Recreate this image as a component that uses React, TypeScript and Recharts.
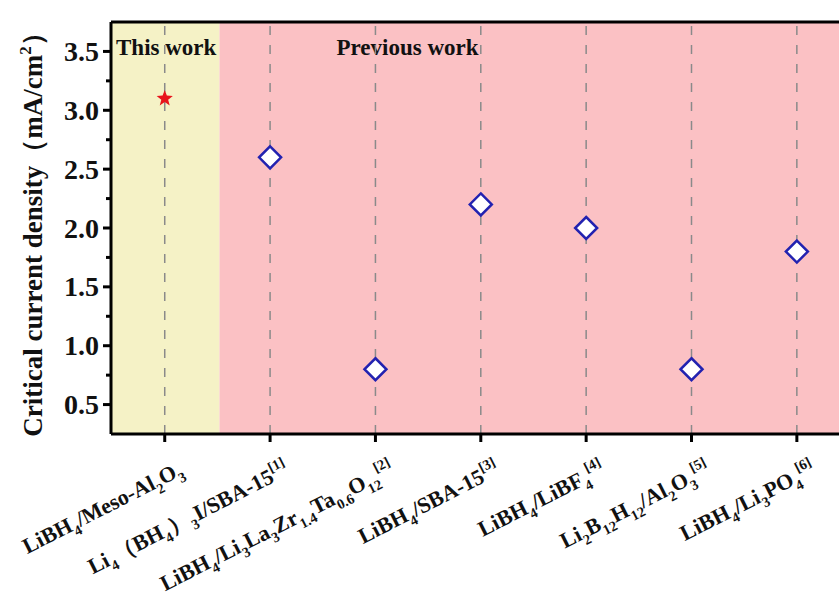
import {
  ScatterChart,
  Scatter,
  XAxis,
  YAxis,
  ReferenceArea,
  ReferenceLine,
} from "recharts";

// tick labels: _{..} is subscript, ^{..} is superscript
const CATEGORIES = [
  "LiBH_{4}/Meso-Al_{2}O_{3}",
  "Li_{4}（BH_{4}）_{3}I/SBA-15^{[1]}",
  "LiBH_{4}/Li_{3}La_{3}Zr_{1.4}Ta_{0.6}O_{12}^{[2]}",
  "LiBH_{4}/SBA-15^{[3]}",
  "LiBH_{4}/LiBF_{4}^{[4]}",
  "Li_{2}B_{12}H_{12}/Al_{2}O_{3}^{[5]}",
  "LiBH_{4}/Li_{3}PO_{4}^{[6]}",
];

// critical current density, mA/cm2
const THIS_WORK = [3.1];
const PREVIOUS_WORK = [2.6, 0.8, 2.2, 2.0, 0.8, 1.8];

const Y_TICKS = [
  0.5, 0.75, 1.0, 1.25, 1.5, 1.75, 2.0, 2.25, 2.5, 2.75, 3.0, 3.25, 3.5,
];

const thisWorkData = THIS_WORK.map((y, i) => ({ x: i, y }));
const previousData = PREVIOUS_WORK.map((y, i) => ({
  x: i + THIS_WORK.length,
  y,
}));
const categoryIndex = CATEGORIES.map((_, i) => i);

const WIDTH = 839;
const HEIGHT = 606;
const PLOT_LEFT = 111;
const PLOT_TOP = 22;
const AXIS_HEIGHT = 172;
const X_DOMAIN = [-0.51, 6.4];
const SPLIT = 0.52;

const SERIF = '"Liberation Serif", "Times New Roman", serif';
const YELLOW = "#f5f2c6";
const PINK = "#fbc1c4";
const BLUE = "#2222b0";
const RED = "#e8141c";

function richText(label: string, size: number) {
  const parts = label.split(/(_\{[^}]*\}|\^\{[^}]*\})/).filter(Boolean);
  let shift = 0;
  return parts.map((p, i) => {
    let kind = "";
    let text = p;
    if (p.startsWith("_{")) {
      kind = "sub";
      text = p.slice(2, -1);
    } else if (p.startsWith("^{")) {
      kind = "sup";
      text = p.slice(2, -1);
    }
    const target =
      kind === "sub" ? size * 0.3 : kind === "sup" ? -size * 0.45 : 0;
    const dy = target - shift;
    shift = target;
    return (
      <tspan key={i} dy={dy} fontSize={kind ? size * 0.65 : size}>
        {text}
      </tspan>
    );
  });
}

// same linear mapping the x axis uses, for the rotated category labels
function categoryX(i: number) {
  const span = X_DOMAIN[1] - X_DOMAIN[0];
  return PLOT_LEFT + ((i - X_DOMAIN[0]) / span) * (WIDTH - PLOT_LEFT);
}

function ValueTick(props: any) {
  const { x, y, payload } = props;
  const v = payload.value as number;
  const major = Math.abs(v * 2 - Math.round(v * 2)) < 1e-6;
  return (
    <g>
      <line
        x1={x}
        x2={x - (major ? 8 : 5)}
        y1={y}
        y2={y}
        stroke="#000"
        strokeWidth={3}
      />
      {major && (
        <text
          x={x - 12}
          y={y}
          textAnchor="end"
          dominantBaseline="central"
          fontFamily={SERIF}
          fontWeight="bold"
          fontSize={28}
          fill="#111"
        >
          {v.toFixed(1)}
        </text>
      )}
    </g>
  );
}

function Diamond(props: any) {
  const { cx, cy } = props;
  const r = 11;
  return (
    <path
      d={`M${cx},${cy - r}L${cx + r},${cy}L${cx},${cy + r}L${cx - r},${cy}Z`}
      fill="#ffffff"
      stroke={BLUE}
      strokeWidth={2.5}
    />
  );
}

function Star(props: any) {
  const { cx, cy } = props;
  const outer = 8.5;
  const inner = 3.6;
  let d = "";
  for (let k = 0; k < 10; k++) {
    const r = k % 2 === 0 ? outer : inner;
    const a = -Math.PI / 2 + (k * Math.PI) / 5;
    d += `${k === 0 ? "M" : "L"}${cx + r * Math.cos(a)},${cy + r * Math.sin(a)}`;
  }
  return <path d={d + "Z"} fill={RED} />;
}

function areaCaption(text: string, dx: number) {
  return (p: any) => {
    const vb = p.viewBox || {};
    return (
      <text
        x={vb.x + dx}
        y={vb.y + 33}
        fontFamily={SERIF}
        fontWeight="bold"
        fontSize={23}
        fill="#111"
      >
        {text}
      </text>
    );
  };
}

export default function App() {
  const labelY = HEIGHT - AXIS_HEIGHT + 40;
  return (
    <div style={{ position: "absolute", left: 0, top: 0, background: "#fff" }}>
      <ScatterChart
        width={WIDTH}
        height={HEIGHT}
        margin={{ top: PLOT_TOP, right: 0, bottom: 0, left: 0 }}
      >
        <XAxis
          type="number"
          dataKey="x"
          domain={X_DOMAIN}
          ticks={categoryIndex}
          interval={0}
          allowDataOverflow
          height={AXIS_HEIGHT}
          tickSize={8}
          axisLine={{ stroke: "#000", strokeWidth: 3 }}
          tickLine={{ stroke: "#000", strokeWidth: 3 }}
          tick={() => <g />}
        />
        <YAxis
          type="number"
          dataKey="y"
          domain={[0.25, 3.75]}
          ticks={Y_TICKS}
          interval={0}
          allowDataOverflow
          width={PLOT_LEFT}
          tickSize={0}
          tickMargin={0}
          tickLine={false}
          axisLine={{ stroke: "#000", strokeWidth: 3 }}
          tick={<ValueTick />}
        />
        <ReferenceArea
          x1={X_DOMAIN[0]}
          x2={SPLIT}
          y1={0.25}
          y2={3.75}
          fill={YELLOW}
          fillOpacity={1}
          stroke="none"
          label={{ content: areaCaption("This work", 5) }}
        />
        <ReferenceArea
          x1={SPLIT}
          x2={X_DOMAIN[1]}
          y1={0.25}
          y2={3.75}
          fill={PINK}
          fillOpacity={1}
          stroke="none"
          label={{ content: areaCaption("Previous work", 117) }}
        />
        {categoryIndex.map((i) => (
          <ReferenceLine
            key={i}
            x={i}
            stroke="#8a8a8a"
            strokeWidth={1.5}
            strokeDasharray="9 10"
          />
        ))}
        <ReferenceLine y={3.75} stroke="#000" strokeWidth={3} ifOverflow="visible" />
        <Scatter
          data={thisWorkData}
          shape={<Star />}
          isAnimationActive={false}
        />
        <Scatter
          data={previousData}
          shape={<Diamond />}
          isAnimationActive={false}
        />
        {CATEGORIES.map((label, i) => {
          const ax = categoryX(i) + 20;
          return (
            <text
              key={label}
              x={ax}
              y={labelY}
              transform={`rotate(-27 ${ax} ${labelY})`}
              textAnchor="end"
              fontFamily={SERIF}
              fontWeight="bold"
              fontSize={22}
              fill="#111"
            >
              {richText(label, 22)}
            </text>
          );
        })}
        <text
          transform="rotate(-90)"
          x={-228}
          y={42}
          textAnchor="middle"
          fontFamily={SERIF}
          fontWeight="bold"
          fontSize={27}
          fill="#111"
        >
          Critical current density（mA/cm
          <tspan dy={-11} fontSize={17}>
            2
          </tspan>
          <tspan dy={11}>）</tspan>
        </text>
      </ScatterChart>
    </div>
  );
}
